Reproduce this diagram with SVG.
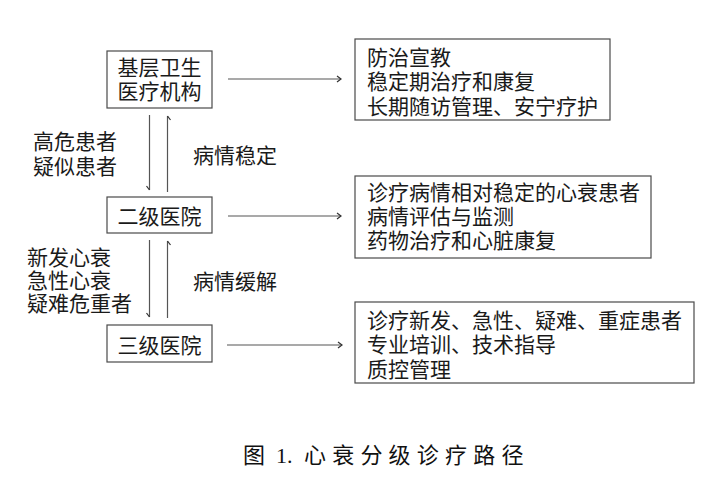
<svg xmlns="http://www.w3.org/2000/svg" width="714" height="482" viewBox="0 0 714 482">
<style>
.box{fill:#fff;stroke:#4a4a4a;stroke-width:1.2}
.t{font-family:"Noto Sans CJK SC","Liberation Sans",sans-serif;font-size:21px;fill:#1a1a1a}
.c{text-anchor:middle}
.ln{stroke:#555;stroke-width:1.2;fill:none}
.cap{font-family:"Liberation Serif","Noto Sans CJK SC",serif;font-size:22px;fill:#111}
</style>
<defs>
<marker id="ah" markerUnits="userSpaceOnUse" markerWidth="8" markerHeight="8" refX="5" refY="4" orient="auto">
<path d="M1,1 L5,4 L1,7" fill="none" stroke="#333" stroke-width="1.2"/>
</marker>
<marker id="hh" markerUnits="userSpaceOnUse" markerWidth="8" markerHeight="8" refX="5" refY="4" orient="auto">
<path d="M1,7 L5,4" fill="none" stroke="#333" stroke-width="1.2"/>
</marker>
</defs>
<rect width="714" height="482" fill="#fff"/>
<g id="connectors">
<line class="ln" x1="228" y1="79" x2="341" y2="79" marker-end="url(#ah)"/>
<line class="ln" x1="228" y1="216" x2="341" y2="216" marker-end="url(#ah)"/>
<line class="ln" x1="227" y1="345" x2="342" y2="345" marker-end="url(#ah)"/>
<line class="ln" x1="149.5" y1="115" x2="149.5" y2="190" marker-end="url(#hh)"/>
<line class="ln" x1="167.5" y1="192" x2="167.5" y2="116" marker-end="url(#hh)"/>
<line class="ln" x1="149.5" y1="240" x2="149.5" y2="317" marker-end="url(#hh)"/>
<line class="ln" x1="167.5" y1="318" x2="167.5" y2="241" marker-end="url(#hh)"/>
</g>
<g id="label-up1"><text class="t" x="33" y="149">高危患者</text><text class="t" x="33" y="174">疑似患者</text></g>
<g id="label-down1"><text class="t" x="193" y="163">病情稳定</text></g>
<g id="label-up2"><text class="t" x="27" y="265">新发心衰</text><text class="t" x="27" y="288">急性心衰</text><text class="t" x="27" y="311">疑难危重者</text></g>
<g id="label-down2"><text class="t" x="193" y="289">病情缓解</text></g>
<g id="node-primary">
<rect class="box" x="107" y="51" width="105" height="57"/>
<text class="t c" x="159.5" y="75">基层卫生</text>
<text class="t c" x="159.5" y="99">医疗机构</text>
</g>
<g id="node-secondary">
<rect class="box" x="107" y="197" width="105" height="36"/>
<text class="t c" x="159.5" y="224">二级医院</text>
</g>
<g id="node-tertiary">
<rect class="box" x="107" y="325" width="105" height="37"/>
<text class="t c" x="159.5" y="353">三级医院</text>
</g>
<g id="node-primary-tasks">
<rect class="box" x="355" y="39" width="255" height="81"/>
<text class="t" x="367" y="65">防治宣教</text>
<text class="t" x="367" y="89">稳定期治疗和康复</text>
<text class="t" x="367" y="114">长期随访管理、安宁疗护</text>
</g>
<g id="node-secondary-tasks">
<rect class="box" x="355" y="176" width="296" height="82"/>
<text class="t" x="367" y="199.5">诊疗病情相对稳定的心衰患者</text>
<text class="t" x="367" y="224">病情评估与监测</text>
<text class="t" x="367" y="248">药物治疗和心脏康复</text>
</g>
<g id="node-tertiary-tasks">
<rect class="box" x="355" y="302" width="339" height="81"/>
<text class="t" x="367" y="328">诊疗新发、急性、疑难、重症患者</text>
<text class="t" x="367" y="352">专业培训、技术指导</text>
<text class="t" x="367" y="377">质控管理</text>
</g>
<g id="caption">
<text class="cap" y="463"><tspan x="243">图</tspan><tspan x="276">1.</tspan><tspan x="304" letter-spacing="6.2">心衰分级诊疗路径</tspan></text>
</g>
</svg>
